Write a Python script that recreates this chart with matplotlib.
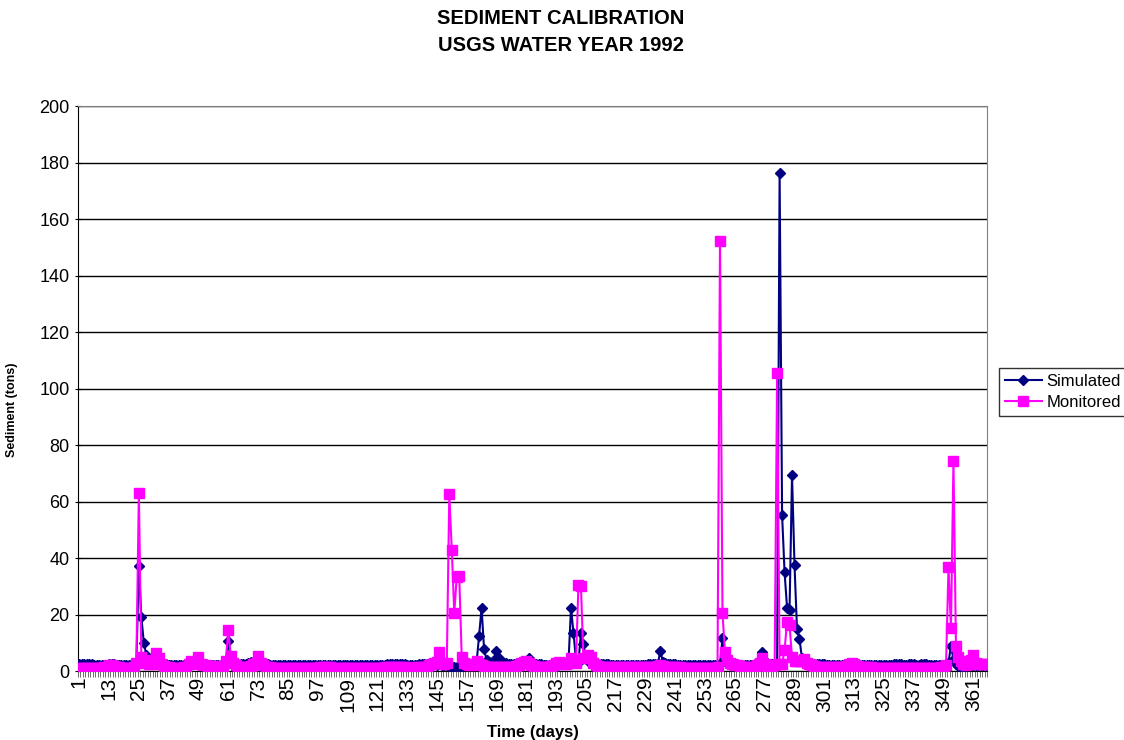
import matplotlib
matplotlib.use("Agg")
import matplotlib.pyplot as plt
from matplotlib.ticker import FixedLocator

plt.rcParams['font.family'] = ['Liberation Sans', 'DejaVu Sans']

# daily sediment load (tons), water year 1992, days 1..366
simulated = [
    2.6, 2.5, 2.5, 2.4, 2.4, 2.4, 2.3, 2.3, 2.3, 2.3,
    2.3, 2.3, 2.4, 2.5, 2.4, 2.3, 2.3, 2.2, 2.2, 2.2,
    2.2, 2.2, 2.3, 2.5, 37.2, 19.2, 10.1, 5.7, 3.8, 3.2,
    3.0, 3.3, 3.0, 2.7, 2.5, 2.4, 2.3, 2.3, 2.2, 2.2,
    2.2, 2.2, 2.2, 2.3, 2.4, 2.6, 2.5, 2.5, 2.6, 2.5,
    2.4, 2.4, 2.3, 2.3, 2.3, 2.2, 2.2, 2.2, 2.3, 2.6,
    10.6, 5.0, 3.4, 2.8, 2.6, 2.5, 2.5, 2.6, 3.0, 3.3,
    2.9, 2.7, 2.6, 2.5, 2.4, 2.4, 2.4, 2.3, 2.3, 2.3,
    2.3, 2.3, 2.3, 2.2, 2.2, 2.2, 2.2, 2.2, 2.2, 2.2,
    2.2, 2.2, 2.2, 2.2, 2.2, 2.2, 2.2, 2.2, 2.3, 2.3,
    2.3, 2.3, 2.3, 2.3, 2.2, 2.2, 2.2, 2.2, 2.2, 2.2,
    2.2, 2.2, 2.2, 2.2, 2.2, 2.2, 2.2, 2.2, 2.2, 2.2,
    2.2, 2.3, 2.3, 2.3, 2.4, 2.4, 2.4, 2.4, 2.5, 2.4,
    2.4, 2.4, 2.3, 2.3, 2.3, 2.3, 2.3, 2.4, 2.5, 2.6,
    2.6, 2.5, 2.4, 2.4, 2.3, 2.4, 2.3, 2.2, 2.0, 1.8,
    1.6, 1.5, 1.5, 1.6, 1.8, 2.0, 2.2, 2.4, 2.6, 2.8,
    3.2, 12.5, 22.4, 7.7, 4.0, 3.2, 2.8, 4.0, 7.1, 4.5,
    3.4, 2.9, 2.7, 2.6, 2.5, 2.5, 2.4, 2.4, 2.5, 2.8,
    3.2, 4.5, 3.0, 2.6, 2.5, 2.4, 2.4, 2.3, 2.3, 2.3,
    2.3, 2.3, 2.3, 2.4, 2.5, 2.6, 2.8, 3.2, 22.4, 13.6,
    4.0, 3.0, 13.6, 9.4, 4.5, 3.4, 3.0, 2.8, 2.6, 2.5,
    2.5, 2.4, 2.4, 2.4, 2.3, 2.3, 2.3, 2.3, 2.3, 2.3,
    2.3, 2.3, 2.3, 2.3, 2.3, 2.3, 2.3, 2.3, 2.3, 2.4,
    2.4, 2.4, 2.5, 2.6, 7.2, 3.2, 2.7, 2.5, 2.4, 2.4,
    2.4, 2.3, 2.3, 2.3, 2.3, 2.3, 2.3, 2.3, 2.3, 2.3,
    2.3, 2.3, 2.2, 2.2, 2.2, 2.2, 2.2, 2.3, 2.6, 11.6,
    3.4, 2.8, 2.6, 2.5, 2.4, 2.4, 2.3, 2.3, 2.3, 2.3,
    2.3, 2.3, 2.4, 2.6, 3.2, 6.6, 3.4, 2.7, 2.5, 2.4,
    2.3, 2.2, 176.4, 55.2, 34.9, 22.4, 21.6, 69.3, 37.5, 14.9,
    11.4, 4.5, 3.4, 3.0, 2.8, 2.6, 2.5, 2.5, 2.4, 2.4,
    2.4, 2.3, 2.3, 2.3, 2.3, 2.3, 2.3, 2.3, 2.3, 2.3,
    2.3, 2.4, 2.4, 2.3, 2.3, 2.3, 2.3, 2.3, 2.3, 2.3,
    2.3, 2.3, 2.3, 2.3, 2.3, 2.3, 2.3, 2.3, 2.4, 2.4,
    2.4, 2.4, 2.3, 2.3, 2.4, 2.5, 2.4, 2.3, 2.3, 2.4,
    2.5, 2.4, 2.3, 2.3, 2.3, 2.3, 2.3, 2.2, 2.3, 2.6,
    3.0, 9.0, 4.0, 2.5, 1.8, 1.5, 1.6, 1.8, 2.0, 2.1,
    2.1, 2.0, 2.0, 2.0, 2.0, 2.0,
]

monitored = [
    1.2, 1.2, 1.2, 1.2, 1.2, 1.2, 1.2, 1.2, 1.2, 1.2,
    1.3, 1.5, 2.0, 2.0, 1.8, 1.5, 1.3, 1.2, 1.2, 1.2,
    1.2, 1.2, 1.5, 3.0, 62.9, 5.0, 4.0, 3.0, 2.5, 2.5,
    4.0, 6.5, 4.5, 2.5, 1.8, 1.5, 1.3, 1.2, 1.2, 1.2,
    1.2, 1.2, 1.3, 1.5, 2.5, 3.5, 3.0, 3.0, 5.0, 2.5,
    2.0, 2.0, 1.8, 1.8, 1.8, 1.6, 1.5, 1.5, 1.8, 3.5,
    14.7, 5.4, 3.0, 2.0, 1.6, 1.5, 1.4, 1.4, 1.5, 1.8,
    2.5, 3.0, 5.4, 3.0, 2.0, 1.6, 1.4, 1.3, 1.2, 1.2,
    1.2, 1.2, 1.2, 1.2, 1.2, 1.2, 1.2, 1.2, 1.2, 1.2,
    1.2, 1.2, 1.2, 1.2, 1.2, 1.2, 1.2, 1.3, 1.3, 1.3,
    1.3, 1.3, 1.2, 1.2, 1.2, 1.2, 1.2, 1.2, 1.2, 1.2,
    1.2, 1.2, 1.2, 1.2, 1.2, 1.2, 1.2, 1.2, 1.2, 1.2,
    1.2, 1.2, 1.2, 1.3, 1.3, 1.3, 1.3, 1.3, 1.3, 1.3,
    1.3, 1.3, 1.2, 1.2, 1.2, 1.2, 1.3, 1.3, 1.4, 1.5,
    1.5, 2.0, 2.5, 3.0, 3.3, 6.8, 3.0, 2.5, 3.0, 62.6,
    43.0, 20.5, 33.4, 33.7, 5.0, 3.0, 2.5, 2.0, 2.0, 2.5,
    3.6, 2.5, 2.0, 1.8, 1.6, 1.5, 1.5, 1.5, 1.5, 1.5,
    1.5, 1.5, 1.5, 1.5, 1.5, 1.6, 1.8, 2.2, 2.8, 3.3,
    3.6, 3.0, 2.2, 1.8, 1.6, 1.5, 1.4, 1.4, 1.4, 1.5,
    1.8, 2.2, 2.8, 3.3, 3.0, 2.5, 2.5, 3.0, 4.5, 4.0,
    3.0, 30.4, 30.2, 4.5, 4.5, 5.8, 5.0, 3.0, 2.2, 1.8,
    1.6, 1.5, 1.4, 1.4, 1.3, 1.3, 1.3, 1.3, 1.3, 1.3,
    1.3, 1.3, 1.3, 1.3, 1.3, 1.3, 1.3, 1.3, 1.3, 1.3,
    1.3, 1.4, 1.5, 1.8, 2.2, 1.8, 1.5, 1.4, 1.3, 1.3,
    1.3, 1.3, 1.3, 1.2, 1.2, 1.2, 1.2, 1.2, 1.2, 1.2,
    1.2, 1.2, 1.2, 1.2, 1.2, 1.2, 1.2, 1.3, 152.3, 20.4,
    6.7, 4.0, 3.0, 2.5, 2.2, 2.0, 1.8, 1.6, 1.5, 1.5,
    1.5, 1.5, 1.6, 2.0, 3.0, 4.5, 2.5, 1.8, 1.5, 1.5,
    2.0, 105.4, 2.5, 2.5, 7.4, 17.5, 16.3, 4.8, 3.5, 3.5,
    3.5, 3.5, 4.1, 3.0, 2.5, 2.0, 1.8, 1.6, 1.5, 1.4,
    1.4, 1.3, 1.3, 1.3, 1.3, 1.3, 1.3, 1.3, 1.5, 1.8,
    2.5, 3.0, 2.5, 1.8, 1.5, 1.4, 1.3, 1.3, 1.3, 1.3,
    1.2, 1.2, 1.2, 1.2, 1.2, 1.2, 1.2, 1.2, 1.2, 1.2,
    1.2, 1.2, 1.2, 1.2, 1.2, 1.2, 1.2, 1.2, 1.2, 1.2,
    1.2, 1.2, 1.2, 1.2, 1.2, 1.2, 1.2, 1.3, 1.5, 2.0,
    36.7, 15.1, 74.4, 9.0, 5.0, 3.5, 2.5, 2.0, 2.5, 4.0,
    5.7, 3.0, 2.5, 2.5, 2.5, 2.5,
]

days = list(range(1, len(simulated) + 1))
tick_days = list(range(1, 367, 12))
y_ticks = list(range(0, 201, 20))

fig = plt.figure(figsize=(11.24, 7.4), dpi=100)
ax = fig.add_axes([0.0694, 0.0932, 0.8087, 0.7635])

ax.plot(days, simulated, color="#000080", marker="D", markersize=5,
        linewidth=1.5, label="Simulated", zorder=3)
ax.plot(days, monitored, color="#FF00FF", marker="s", markersize=7,
        linewidth=1.5, label="Monitored", zorder=4)

ax.set_xlim(0.5, len(days) + 0.5)
ax.set_ylim(0, 200)
ax.set_yticks(y_ticks)
ax.yaxis.grid(True, color="black", linewidth=1)
ax.set_axisbelow(True)

ax.xaxis.set_major_locator(FixedLocator(tick_days))
ax.set_xticklabels([str(d) for d in tick_days], rotation=90, fontsize=15)
ax.xaxis.set_minor_locator(FixedLocator([d + 0.5 for d in range(0, 367)]))
ax.tick_params(axis="x", which="major", length=0, pad=4)
ax.tick_params(axis="x", which="minor", length=4, width=0.6, color="#555555", direction="out")
ax.tick_params(axis="y", labelsize=13, length=5, direction="inout", color="black")

for side in ["top", "right"]:
    ax.spines[side].set_color("#808080")
ax.spines["left"].set_color("black")
ax.spines["bottom"].set_color("black")

ax.set_xlabel("Time (days)", fontsize=12, fontweight="bold")
ax.xaxis.set_label_coords(0.501, -0.095)
ax.set_ylabel("Sediment (tons)", fontsize=9, fontweight="bold")
ax.yaxis.set_label_coords(-0.066, 0.462)

fig.text(0.499, 0.975, "SEDIMENT CALIBRATION", ha="center", va="center",
         fontsize=14.5, fontweight="bold")
fig.text(0.499, 0.939, "USGS WATER YEAR 1992", ha="center", va="center",
         fontsize=14.5, fontweight="bold")

leg = fig.legend(loc="center left", bbox_to_anchor=(0.889, 0.47), fontsize=12,
                 frameon=True, fancybox=False, edgecolor="black",
                 handlelength=2.2, handletextpad=0.3, borderpad=0.35,
                 labelspacing=0.35, borderaxespad=0)
leg.get_frame().set_linewidth(1)

fig.savefig("out.png", dpi=100)
